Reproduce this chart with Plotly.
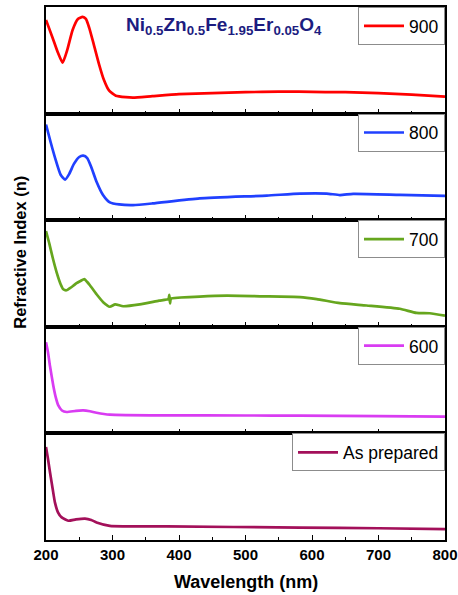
import plotly.graph_objects as go
from plotly.subplots import make_subplots

# Wavelength (nm) and relative refractive index (arbitrary units, 0-100 per panel)
x_900 = [200, 210, 218, 225, 232, 240, 248, 255, 260, 265, 272, 280, 287, 295, 305, 320, 331, 360, 400, 450, 500, 550, 580, 620, 650, 700, 750, 800]
n_900 = [87.9, 71.0, 57.0, 47.7, 59.8, 78.5, 88.8, 90.7, 88.8, 80.4, 64.5, 45.8, 31.8, 21.5, 16.8, 15.4, 15.0, 16.4, 18.2, 19.2, 20.1, 20.6, 20.7, 20.1, 20.1, 19.2, 17.8, 15.9]

x_800 = [200, 207, 215, 222, 228.6, 235, 242, 250, 256, 262, 268, 276, 286, 296, 310, 331, 360, 431, 532, 582, 622, 642, 662, 732, 800]
n_800 = [89.8, 73.1, 55.6, 42.6, 38.0, 43.5, 52.8, 59.3, 60.5, 58.3, 50.0, 36.1, 23.4, 16.7, 14.8, 14.2, 15.7, 20.4, 23.1, 25.0, 25.0, 23.6, 24.7, 23.8, 22.9]

x_700 = [200, 205, 210, 216, 222, 226, 231, 236, 241, 246, 252, 257.6, 262, 266, 276, 286, 296, 304, 316, 341, 370, 384, 385.5, 386.5, 388, 431, 472, 522, 582, 607, 642, 682, 732, 757, 777, 800]
n_700 = [89.8, 78, 65, 51.1, 40, 35.2, 34.3, 36.2, 38.5, 41.0, 43.0, 44.8, 42.0, 39.0, 30.5, 23.1, 18.8, 21.0, 19.3, 21.0, 24.5, 26.0, 30, 22, 26.4, 28.3, 29.2, 28.6, 27.9, 26.0, 22.2, 20.0, 16.9, 13.0, 12.7, 10.5]

x_600 = [200, 203, 206, 211, 215, 218.5, 224, 231, 245, 256, 266, 276, 296, 381, 500, 582, 700, 800]
n_600 = [85.5, 76, 63.2, 44.7, 33, 26.2, 21.5, 20.1, 21.2, 21.6, 20.8, 19.4, 17.6, 16.9, 16.8, 16.7, 16.2, 15.7]

x_asp = [200, 203, 206, 210, 213.5, 218, 223.6, 233.5, 245, 258.6, 268, 276, 296, 381, 582, 700, 800]
n_asp = [87.3, 76, 63.5, 48, 35, 26, 21.2, 18.1, 19.3, 20, 18.8, 16.5, 13.3, 12.7, 11.7, 11, 10.2]

labels = ["900", "800", "700", "600", "As prepared"]
colors = ["#ff0000", "#2040ff", "#66a61e", "#d93cf2", "#a3105a"]
series = [(x_900, n_900), (x_800, n_800), (x_700, n_700), (x_600, n_600), (x_asp, n_asp)]
x_ticks = [200, 300, 400, 500, 600, 700, 800]

FONT = "Liberation Sans, Arial, sans-serif"

fig = make_subplots(rows=5, cols=1, shared_xaxes=False, vertical_spacing=0)

legend_names = ["legend", "legend2", "legend3", "legend4", "legend5"]
for i, ((xs, ys), lab, col) in enumerate(zip(series, labels, colors)):
    fig.add_trace(go.Scatter(x=xs, y=ys, mode="lines", name=lab,
                             line=dict(color=col, width=2.7, shape="spline", smoothing=0.5),
                             legend=legend_names[i]), row=i + 1, col=1)

legend_layout = {}
for i, ln in enumerate(legend_names):
    top = 1 - i * 0.2
    legend_layout[ln] = dict(x=1, xanchor="right", y=top, yanchor="top",
                             bgcolor="white", bordercolor="#8c8c8c", borderwidth=1,
                             font=dict(family=FONT, size=17.5, color="black"),
                             itemwidth=40, tracegroupgap=0)
fig.update_layout(**legend_layout)

for i in range(1, 6):
    fig.update_xaxes(range=[200, 800], showline=True, linecolor="black", linewidth=1.5, mirror=True,
                     ticks="inside", ticklen=5, tickwidth=1.3, tickcolor="black",
                     tickvals=x_ticks, showgrid=False, zeroline=False, automargin=False,
                     minor=dict(ticks="inside", ticklen=3, dtick=50, tick0=200, tickcolor="black", tickwidth=1.2, showgrid=False),
                     showticklabels=(i == 5),
                     tickfont=dict(family=FONT, size=15, color="black", weight="bold"),
                     row=i, col=1)
    fig.update_yaxes(range=[0, 100], showline=True, linecolor="black", linewidth=1.5, mirror=True,
                     ticks="", showticklabels=False, showgrid=False, zeroline=False, automargin=False,
                     row=i, col=1)

fig.add_annotation(text="<b>Ni<sub>0.5</sub>Zn<sub>0.5</sub>Fe<sub>1.95</sub>Er<sub>0.05</sub>O<sub>4</sub></b>",
                   xref="paper", yref="paper", x=0.445, y=0.964, xanchor="center", yanchor="middle",
                   showarrow=False, font=dict(family=FONT, size=19, color="#1c1c80"))
fig.add_annotation(text="<b>Refractive Index (n)</b>", xref="paper", yref="paper",
                   x=-0.065, y=0.539, xanchor="center", yanchor="middle", textangle=-90,
                   showarrow=False, font=dict(family=FONT, size=16.5, color="black"))
fig.add_annotation(text="<b>Wavelength (nm)</b>", xref="paper", yref="paper",
                   x=0.5, y=-0.079, xanchor="center", yanchor="middle",
                   showarrow=False, font=dict(family=FONT, size=18, color="black"))

fig.update_layout(width=458, height=595, margin=dict(l=46, r=13, t=7, b=55, autoexpand=False),
                  paper_bgcolor="white", plot_bgcolor="white", showlegend=True,
                  font=dict(family=FONT))
fig.write_html("out.html", config={"displayModeBar": False},
               post_script="document.body.style.margin='0';document.body.style.overflow='hidden';")
